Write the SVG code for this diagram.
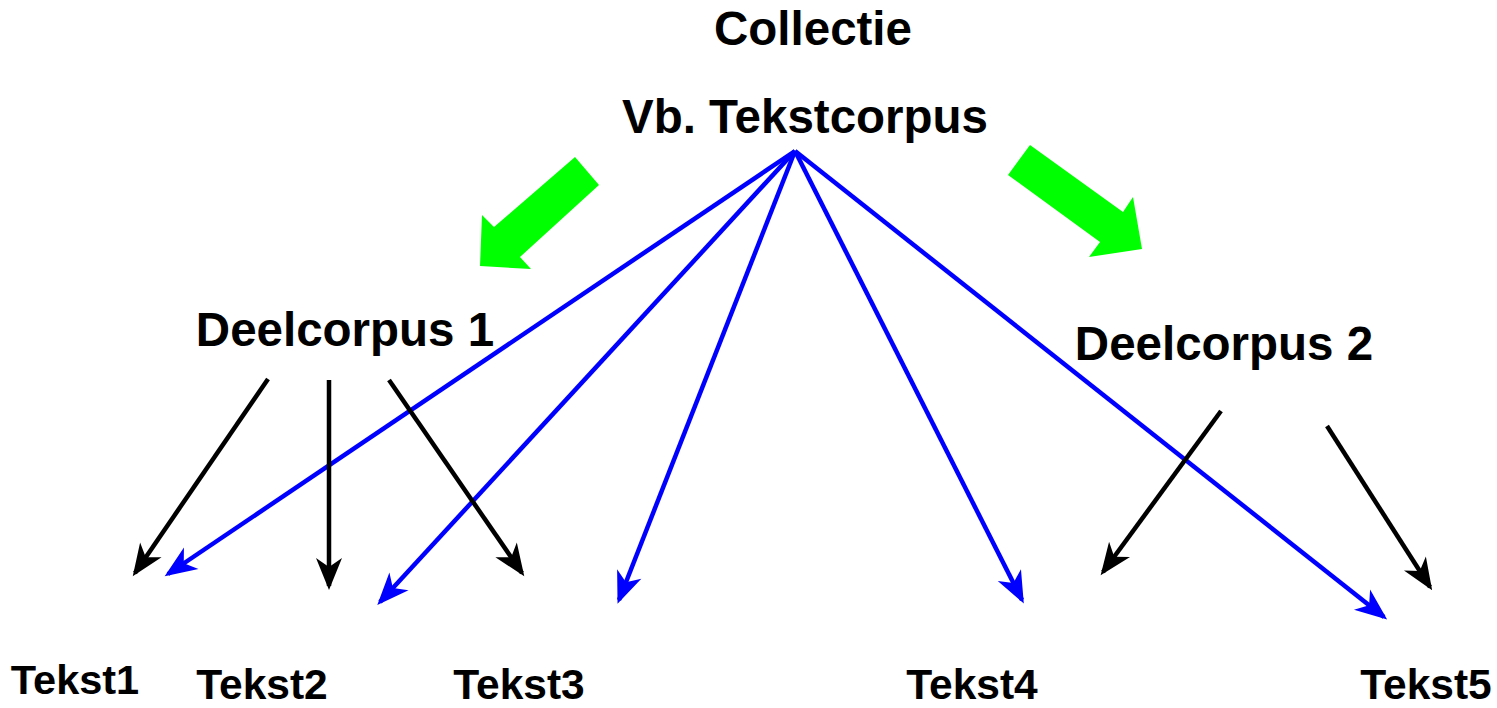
<svg xmlns="http://www.w3.org/2000/svg" width="1497" height="708" viewBox="0 0 1497 708">
  <style>
    text { font-family: "Liberation Sans", Arial, sans-serif; font-weight: bold; fill: #000; }
    .big { font-size: 47.5px; }
    .small { font-size: 42.5px; }
    .blk { stroke: #000; stroke-width: 4.5; fill: none; marker-end: url(#headBlack); }
    .blu { stroke: #0000ff; stroke-width: 4.5; fill: none; marker-end: url(#headBlue); }
    .green { fill: #00ff00; }
  </style>
  <defs>
    <!-- notched heads; the tip sits a little past the line end so the butt cap stays hidden -->
    <marker id="headBlack" viewBox="-34 -15 36 30" refX="-4" refY="0" markerWidth="36" markerHeight="30" markerUnits="userSpaceOnUse" orient="auto">
      <path d="M0,0 L-32,-13 L-23,0 L-32,13 Z" fill="#000"/>
    </marker>
    <marker id="headBlue" viewBox="-34 -15 36 30" refX="-4" refY="0" markerWidth="36" markerHeight="30" markerUnits="userSpaceOnUse" orient="auto">
      <path d="M0,0 L-32,-13 L-23,0 L-32,13 Z" fill="#0000ff"/>
    </marker>
  </defs>

  <g id="collectie">
    <text class="big" x="813" y="45" text-anchor="middle">Collectie</text>
    <text class="big" x="805" y="133" text-anchor="middle">Vb. Tekstcorpus</text>
  </g>

  <g id="deelcorpus1">
    <text class="big" x="345" y="346" text-anchor="middle">Deelcorpus 1</text>
  </g>
  <g id="deelcorpus2">
    <text class="big" x="1224" y="360" text-anchor="middle">Deelcorpus 2</text>
  </g>

  <g id="tekst1"><text class="small" x="75" y="694" text-anchor="middle" style="font-size:41.5px">Tekst1</text></g>
  <g id="tekst2"><text class="small" x="262" y="699" text-anchor="middle">Tekst2</text></g>
  <g id="tekst3"><text class="small" x="519" y="699" text-anchor="middle">Tekst3</text></g>
  <g id="tekst4"><text class="small" x="972" y="699" text-anchor="middle">Tekst4</text></g>
  <g id="tekst5"><text class="small" x="1426" y="699" text-anchor="middle">Tekst5</text></g>

  <g id="connectors">
    <!-- split arrows from the collection into the sub-corpora -->
    <polygon class="green" points="575,157 599,185 520,257 531,269 480,266 482,215 494,227"/>
    <polygon class="green" points="1030,145 1123,212 1133,197 1142,249 1089,257 1100,242 1008,175"/>

    <!-- collection directly to texts -->
    <line class="blu" x1="795" y1="151" x2="168" y2="574"/>
    <line class="blu" x1="795" y1="151" x2="380" y2="602"/>
    <line class="blu" x1="795" y1="151" x2="619" y2="600"/>
    <line class="blu" x1="795" y1="151" x2="1022" y2="600"/>
    <line class="blu" x1="795" y1="151" x2="1384" y2="617"/>

    <!-- sub-corpora to texts -->
    <line class="blk" x1="268" y1="379" x2="135" y2="573"/>
    <line class="blk" x1="329" y1="380" x2="329" y2="586"/>
    <line class="blk" x1="389" y1="380" x2="522" y2="573"/>
    <line class="blk" x1="1221" y1="411" x2="1103" y2="572"/>
    <line class="blk" x1="1327" y1="426" x2="1430" y2="587"/>
  </g>
</svg>
